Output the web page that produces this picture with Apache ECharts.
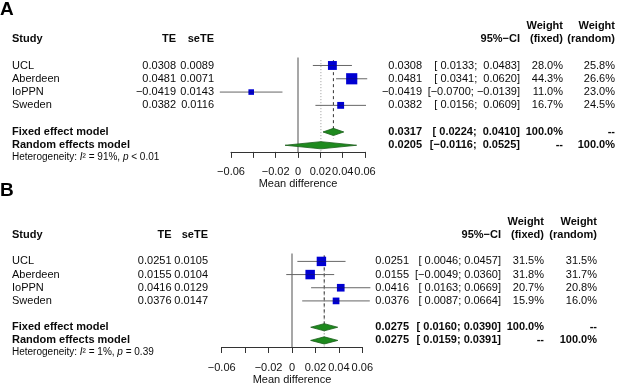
<!DOCTYPE html>
<html>
<head>
<meta charset="utf-8">
<script src="https://cdn.jsdelivr.net/npm/echarts@6/dist/echarts.min.js"></script>
<style>
  html, body { margin: 0; padding: 0; background: #fff; }
  #chart { width: 617px; height: 386px; }
</style>
</head>
<body>
<div id="chart"></div>
<script>
// ---- data ----
const studies = ['UCL', 'Aberdeen', 'IoPPN', 'Sweden'];
const xTickMin = -0.06, xTickMax = 0.06, xTickStep = 0.02;
const hiddenTickLabels = [-0.04];

// panel A
const teA = [0.0308, 0.0481, -0.0419, 0.0382];
const seA = [0.0089, 0.0071, 0.0143, 0.0116];
const lowerA = [0.0133, 0.0341, -0.0700, 0.0156];
const upperA = [0.0483, 0.0620, -0.0139, 0.0609];
const wFixedA = [28.0, 44.3, 11.0, 16.7];
const wRandomA = [25.8, 26.6, 23.0, 24.5];
const fixedA = [0.0317, 0.0224, 0.0410];    // est, lower, upper
const randomA = [0.0205, -0.0116, 0.0525];
const hetA = ['91%', '< 0.01'];

// panel B
const teB = [0.0251, 0.0155, 0.0416, 0.0376];
const seB = [0.0105, 0.0104, 0.0129, 0.0147];
const lowerB = [0.0046, -0.0049, 0.0163, 0.0087];
const upperB = [0.0457, 0.0360, 0.0669, 0.0664];
const wFixedB = [31.5, 31.8, 20.7, 15.9];
const wRandomB = [31.5, 31.7, 20.8, 16.0];
const fixedB = [0.0275, 0.0160, 0.0390];
const randomB = [0.0275, 0.0159, 0.0391];
const hetB = ['1%', '= 0.39'];

// ---- layout ----
const FONT = 'Liberation Sans';
const BLUE = '#0000D2';
const GREEN = '#1E8A1E';
const ROW_MIN = -0.6, ROW_MAX = 6.5;

const panels = [
  {
    letter: 'A', letterTop: 0,
    te: teA, se: seA, lo: lowerA, hi: upperA, wf: wFixedA, wr: wRandomA,
    fixed: fixedA, random: randomA, het: hetA,
    grid: { left: 231, width: 134, top: 57.5, height: 94.4 },
    cols: { study: 12, te: 176, se: 214, est: 422, ci: 520, wf: 563, wr: 615 },
    lineTop: -0.4
  },
  {
    letter: 'B', letterTop: 181,
    te: teB, se: seB, lo: lowerB, hi: upperB, wf: wFixedB, wr: wRandomB,
    fixed: fixedB, random: randomB, het: hetB,
    grid: { left: 221.7, width: 140.6, top: 253.5, height: 94.8 },
    cols: { study: 12, te: 171.5, se: 208, est: 409, ci: 501, wf: 544, wr: 597 },
    lineTop: -0.45
  }
];

function num(v) {
  return (v < 0 ? '\u2212' : '') + Math.abs(v).toFixed(4);
}
function padNum(v, pad) {
  return (pad && v >= 0 ? ' ' : '') + num(v);
}

// build the text cells of one table
function tableCells(p) {
  const c = p.cols;
  const cells = [];
  const add = (row, x, text, align, bold, size) =>
    cells.push({ row, x, text, align, bold, size: size || 11 });
  const allLo = p.lo.concat([p.fixed[1], p.random[1]]);
  const allHi = p.hi.concat([p.fixed[2], p.random[2]]);
  const padLo = allLo.some(v => v < 0), padHi = allHi.some(v => v < 0);
  const ci = (lo, hi) => '[' + padNum(lo, padLo) + '; ' + padNum(hi, padHi) + ']';

  add(-2, c.study, 'Study', 'left', true);
  add(-2, c.te, 'TE', 'right', true);
  add(-2, c.se, 'seTE', 'right', true);
  add(-2, c.ci, '95%\u2212CI', 'right', true);
  add(-3, c.wf, 'Weight', 'right', true);
  add(-2, c.wf, '(fixed)', 'right', true);
  add(-3, c.wr, 'Weight', 'right', true);
  add(-2, c.wr, '(random)', 'right', true);

  studies.forEach((s, i) => {
    add(i, c.study, s, 'left', false);
    add(i, c.te, num(p.te[i]), 'right', false);
    add(i, c.se, num(p.se[i]), 'right', false);
    add(i, c.est, num(p.te[i]), 'right', false);
    add(i, c.ci, ci(p.lo[i], p.hi[i]), 'right', false);
    add(i, c.wf, p.wf[i].toFixed(1) + '%', 'right', false);
    add(i, c.wr, p.wr[i].toFixed(1) + '%', 'right', false);
  });

  add(5, c.study, 'Fixed effect model', 'left', true);
  add(5, c.est, num(p.fixed[0]), 'right', true);
  add(5, c.ci, ci(p.fixed[1], p.fixed[2]), 'right', true);
  add(5, c.wf, '100.0%', 'right', true);
  add(5, c.wr, '--', 'right', true);

  add(6, c.study, 'Random effects model', 'left', true);
  add(6, c.est, num(p.random[0]), 'right', true);
  add(6, c.ci, ci(p.random[1], p.random[2]), 'right', true);
  add(6, c.wf, '--', 'right', true);
  add(6, c.wr, '100.0%', 'right', true);

  add(6.9, c.study, 'Heterogeneity: {i|I}\u00b2 = ' + p.het[0] + ', {i|p} ' + p.het[1], 'left', false, 10);
  return cells;
}

const grids = [], xAxes = [], yAxes = [], series = [], graphics = [];

panels.forEach((p, gi) => {
  grids.push(Object.assign({ containLabel: false }, p.grid));
  xAxes.push({
    gridIndex: gi, type: 'value',
    min: xTickMin, max: xTickMax, interval: xTickStep,
    name: 'Mean difference', nameLocation: 'middle', nameGap: 27,
    nameTextStyle: { color: '#111', fontSize: 11, fontFamily: FONT },
    axisLine: { show: true, onZero: false, lineStyle: { color: '#333', width: 1 } },
    axisTick: { show: true, length: 6, lineStyle: { color: '#333' } },
    axisLabel: {
      color: '#111', fontSize: 11, fontFamily: FONT, margin: 15,
      formatter: v => {
        if (hiddenTickLabels.some(h => Math.abs(h - v) < 1e-9)) return '';
        const a = parseFloat(Math.abs(v).toFixed(2));
        return (v < -1e-9 ? '\u2212' : '') + a;
      }
    },
    splitLine: { show: false }
  });
  yAxes.push({ gridIndex: gi, type: 'value', inverse: true, min: ROW_MIN, max: ROW_MAX, show: false });

  // reference lines: zero, fixed, random
  series.push({
    type: 'custom', xAxisIndex: gi, yAxisIndex: gi, silent: true,
    data: [
      [0, ROW_MIN, ROW_MAX, 0],
      [p.random[0], p.lineTop, ROW_MAX, 2],
      [p.fixed[0], p.lineTop, 5.5, 1]
    ],
    renderItem: (params, api) => {
      const a = api.coord([api.value(0), api.value(1)]);
      const b = api.coord([api.value(0), api.value(2)]);
      const kind = api.value(3);
      const style = kind === 0 ? { stroke: '#8a8a8a', lineWidth: 1.5 }
        : kind === 1 ? { stroke: '#333', lineWidth: 1, lineDash: [3, 3] }
        : { stroke: '#999', lineWidth: 1, lineDash: [1, 2] };
      return { type: 'line', shape: { x1: a[0], y1: a[1], x2: b[0], y2: b[1] }, style };
    }
  });

  // study squares + CIs
  series.push({
    type: 'custom', xAxisIndex: gi, yAxisIndex: gi, silent: true,
    data: studies.map((s, i) => [p.te[i], p.lo[i], p.hi[i], p.wf[i], i]),
    renderItem: (params, api) => {
      const row = api.value(4);
      const c = api.coord([api.value(0), row]);
      const l = api.coord([api.value(1), row]);
      const h = api.coord([api.value(2), row]);
      const s = 1.68 * Math.sqrt(api.value(3));
      return {
        type: 'group', children: [
          { type: 'line', shape: { x1: l[0], y1: l[1], x2: h[0], y2: h[1] }, style: { stroke: '#666', lineWidth: 1 } },
          { type: 'rect', shape: { x: c[0] - s / 2, y: c[1] - s / 2, width: s, height: s }, style: { fill: BLUE } },
          { type: 'line', shape: { x1: c[0] - s / 2, y1: c[1], x2: c[0] + s / 2, y2: c[1] }, style: { stroke: '#222', lineWidth: 0.6, opacity: 0.6 } }
        ]
      };
    }
  });

  // summary diamonds
  series.push({
    type: 'custom', xAxisIndex: gi, yAxisIndex: gi, silent: true,
    data: [[p.fixed[0], p.fixed[1], p.fixed[2], 5], [p.random[0], p.random[1], p.random[2], 6]],
    renderItem: (params, api) => {
      const row = api.value(3);
      const c = api.coord([api.value(0), row]);
      const l = api.coord([api.value(1), row]);
      const h = api.coord([api.value(2), row]);
      const hh = 3.6;
      return {
        type: 'polygon',
        shape: { points: [[l[0], l[1]], [c[0], c[1] - hh], [h[0], h[1]], [c[0], c[1] + hh]] },
        style: { fill: GREEN, stroke: '#1a5e1a', lineWidth: 0.8 }
      };
    }
  });

  // table text
  const cells = tableCells(p);
  series.push({
    type: 'custom', xAxisIndex: gi, yAxisIndex: gi, silent: true, clip: false,
    data: cells.map(c => [0, c.row]),
    renderItem: (params, api) => {
      const cell = cells[params.dataIndex];
      const y = api.coord([0, api.value(1)])[1];
      return {
        type: 'text',
        style: {
          x: cell.x, y: y, text: cell.text,
          align: cell.align, verticalAlign: 'middle',
          fill: '#0a0a0a',
          fontFamily: FONT, fontSize: cell.size, fontWeight: cell.bold ? 'bold' : 'normal',
          rich: { i: { fontStyle: 'italic', fontSize: cell.size, fontFamily: FONT, fill: '#0a0a0a' } }
        }
      };
    }
  });

  graphics.push({
    type: 'text', left: 0, top: p.letterTop,
    style: { text: p.letter, fontFamily: FONT, fontWeight: 'bold', fontSize: 19, fill: '#000' }
  });
});

const chart = echarts.init(document.getElementById('chart'));
chart.setOption({
  animation: false,
  backgroundColor: '#fff',
  grid: grids,
  xAxis: xAxes,
  yAxis: yAxes,
  series: series,
  graphic: graphics
});
</script>
</body>
</html>
